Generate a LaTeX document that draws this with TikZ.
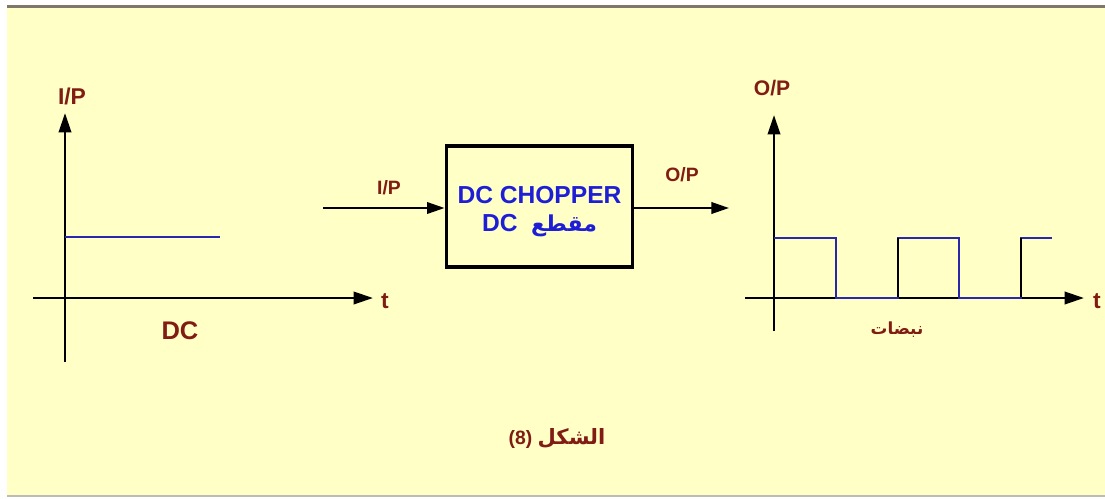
\documentclass[tikz,border=0pt]{standalone}
\usepackage{fontspec}
\setmainfont{Liberation Sans}
\newfontfamily\arabicfont[Script=Arabic]{DejaVu Sans}
\TeXXeTstate=1
\usetikzlibrary{arrows.meta,positioning}
\definecolor{paper}{RGB}{255,255,198}
\definecolor{rim}{RGB}{125,120,105}
\definecolor{lblred}{RGB}{128,28,20}
\definecolor{txtblue}{RGB}{30,30,215}
\definecolor{wave}{RGB}{40,40,175}
\tikzset{
  axis/.style={line width=1.5pt,-{Triangle[length=11pt,width=7pt]}},
  flow/.style={line width=1.3pt,-{Triangle[length=10pt,width=6.5pt]}},
  sig/.style={wave,line width=1.1pt},
  lbl/.style={font=\bfseries\fontsize{11}{13}\selectfont,text=lblred,inner sep=1pt},
  biglbl/.style={lbl,font=\bfseries\fontsize{13}{15}\selectfont},
  blockbox/.style={draw,line width=2.2pt,minimum width=3.72cm,minimum height=2.42cm},
  blocktext/.style={align=center,text=txtblue,inner sep=0pt,
              font=\bfseries\fontsize{14}{15.5}\selectfont},
}

\begin{document}
\begin{tikzpicture}[x=0.02cm, y=-0.02cm]
  \useasboundingbox (0,0) rectangle (1105,498);
  % background sheet
  \fill[paper] (7,8) rectangle (1105,495);
  \draw[rim,line width=1.8pt] (7,6.5) -- (1105,6.5);
  \draw[rim!50,line width=0.6pt] (7,496) -- (1105,496);

  % input graph
  \coordinate (a1b) at (65,362);
  \coordinate (a1t) at (65,113);
  \coordinate (a1l) at (33,298);
  \coordinate (a1r) at (373,298);
  \draw[axis] (a1b) -- (a1t);
  \draw[axis] (a1l) -- (a1r);
  \draw[sig] (65,237) -- (220,237);
  \node[biglbl] (ip1) at (72,96) {I/P};
  \node[biglbl] (t1) at (385,301) {t};
  \node[biglbl,font=\bfseries\fontsize{14.5}{16}\selectfont] (dc) at (180,331) {DC};

  % chopper block
  \node[blockbox] (chop) at (539.5,206.5) {};
  \node[blocktext] (choptxt) at ([yshift=-0.1cm]chop.center)
    {DC CHOPPER\\DC~~{\arabicfont\fontsize{12.5}{13}\selectfont\beginR مقطع\endR}};
  \coordinate (inL) at (323,208);
  \coordinate (outR) at (729,208);
  \draw[flow] (inL) -- (inL -| chop.west);
  \draw[flow] (outR -| chop.east) -- (outR);
  \node[lbl] (ip2) at (389,188) {I/P};
  \node[lbl] (op2) at (682,175) {O/P};

  % output graph
  \coordinate (a2b) at (774,331);
  \coordinate (a2t) at (774,115);
  \coordinate (a2l) at (745,298);
  \coordinate (a2r) at (1084,298);
  \draw[axis] (a2b) -- (a2t);
  \draw[axis] (a2l) -- (a2r);
  \draw[sig] (774,238) -- (836,238) -- (836,298) -- (898,298) -- (898,238)
    -- (959,238) -- (959,298) -- (1021,298) -- (1021,238) -- (1052,238);
  \draw[line width=1pt] (898,297) -- (898,238) (1021,297) -- (1021,238);
  \node[lbl,font=\bfseries\fontsize{12}{14}\selectfont] (op1) at (772,88) {O/P};
  \node[biglbl] (t2) at (1097,301) {t};
  \node[lbl,font=\arabicfont\bfseries\fontsize{9.5}{11}\selectfont] (pulse) at (897,330) {\beginR نبضات\endR};

  % caption
  \node[lbl] (cap) at (557,438) {(8) {\arabicfont\fontsize{12}{13}\selectfont\beginR الشكل\endR}};
\end{tikzpicture}
\end{document}
